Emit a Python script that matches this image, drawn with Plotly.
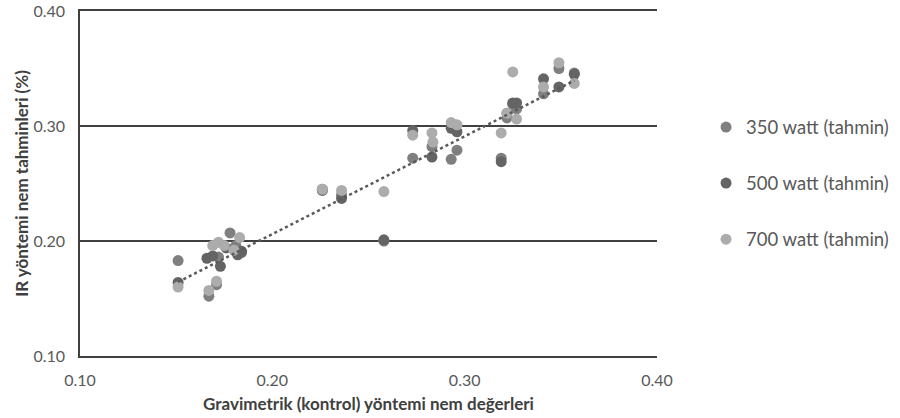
import plotly.graph_objects as go

# ---- data ----
x_350 = [0.151, 0.167, 0.171, 0.172, 0.178, 0.181, 0.184,
         0.226, 0.236, 0.258, 0.273, 0.283, 0.293, 0.296, 0.319, 0.322, 0.325, 0.327, 0.341, 0.349, 0.357]
y_350 = [0.183, 0.152, 0.162, 0.186, 0.207, 0.196, 0.190,
         0.245, 0.240, 0.200, 0.272, 0.282, 0.271, 0.279, 0.272, 0.307, 0.319, 0.315, 0.328, 0.350, 0.346]

x_500 = [0.151, 0.166, 0.169, 0.173, 0.176, 0.182, 0.184,
         0.226, 0.236, 0.258, 0.273, 0.283, 0.293, 0.296, 0.319, 0.322, 0.325, 0.327, 0.341, 0.349, 0.357]
y_500 = [0.164, 0.185, 0.187, 0.178, 0.194, 0.188, 0.191,
         0.244, 0.237, 0.201, 0.296, 0.273, 0.298, 0.295, 0.269, 0.311, 0.320, 0.320, 0.341, 0.334, 0.345]

x_700 = [0.151, 0.167, 0.171, 0.169, 0.172, 0.175, 0.180, 0.183,
         0.226, 0.236, 0.258, 0.273, 0.283, 0.2835, 0.293, 0.296, 0.319, 0.322, 0.325, 0.327, 0.341, 0.349, 0.357]
y_700 = [0.160, 0.157, 0.165, 0.196, 0.199, 0.196, 0.192, 0.203,
         0.245, 0.244, 0.243, 0.292, 0.294, 0.286, 0.303, 0.301, 0.294, 0.311, 0.347, 0.306, 0.334, 0.355, 0.337]

series_names = ["350 watt (tahmin)", "500 watt (tahmin)", "700 watt (tahmin)"]

# linear trendline (as drawn in the reference)
trend_slope = 0.85
trend_intercept = 0.036
trend_x = [0.151, 0.357]

tick_vals = [0.10, 0.20, 0.30, 0.40]
tick_text = ["0.10", "0.20", "0.30", "0.40"]

x_title = "Gravimetrik (kontrol) yöntemi nem değerleri"
y_title = "IR yöntemi nem tahminleri (%)"

# ---- figure ----
colors = ["#7f7f7f", "#646464", "#acacac"]
FONT = "Lato, 'Open Sans', sans-serif"

fig = go.Figure()
for i, (xs, ys) in enumerate([(x_350, y_350), (x_500, y_500), (x_700, y_700)]):
    fig.add_trace(go.Scatter(
        x=xs, y=ys, mode="markers", name=series_names[i],
        legendgroup=f"g{i}",
        marker=dict(color=colors[i], size=11, line=dict(width=0)),
    ))

trend_y = [trend_slope * v + trend_intercept for v in trend_x]
fig.add_trace(go.Scatter(
    x=trend_x, y=trend_y, mode="lines", showlegend=False,
    line=dict(color="#595959", width=2.5, dash="dot"),
))

fig.update_layout(
    width=900, height=418,
    margin=dict(l=80, r=243, t=11, b=62, autoexpand=False),
    paper_bgcolor="white", plot_bgcolor="white",
    font=dict(family=FONT, color="#595959", size=16),
    legend=dict(
        x=1.085, xanchor="left", y=0.5, yanchor="middle",
        font=dict(size=18.5, color="#595959"),
        tracegroupgap=29, bgcolor="rgba(0,0,0,0)",
    ),
    showlegend=True,
)
fig.update_xaxes(
    range=[0.10, 0.40], tickvals=tick_vals, ticktext=tick_text,
    showgrid=False, zeroline=False, showline=True, mirror=True,
    linecolor="#404040", linewidth=1.5,
    ticks="", ticklabelstandoff=9, ticklabeloverflow="allow",
    tickfont=dict(size=16, color="#595959"),
    automargin=False,
    title=dict(text=f"<b>{x_title}</b>", font=dict(size=17, color="#404040"), standoff=10),
)
fig.update_yaxes(
    range=[0.10, 0.40], tickvals=tick_vals, ticktext=tick_text,
    showgrid=True, gridcolor="#404040", gridwidth=1.5,
    zeroline=False, showline=True, linecolor="#404040", linewidth=1.5,
    ticks="", ticklabelstandoff=10, ticklabeloverflow="allow",
    tickfont=dict(size=16, color="#595959"),
    automargin=False,
    title=dict(text=f"<b>{y_title}</b>", font=dict(size=17, color="#404040"), standoff=0),
)

fig.write_html("out.html", config={"displayModeBar": False},
               post_script="document.body.style.margin='0px';")
